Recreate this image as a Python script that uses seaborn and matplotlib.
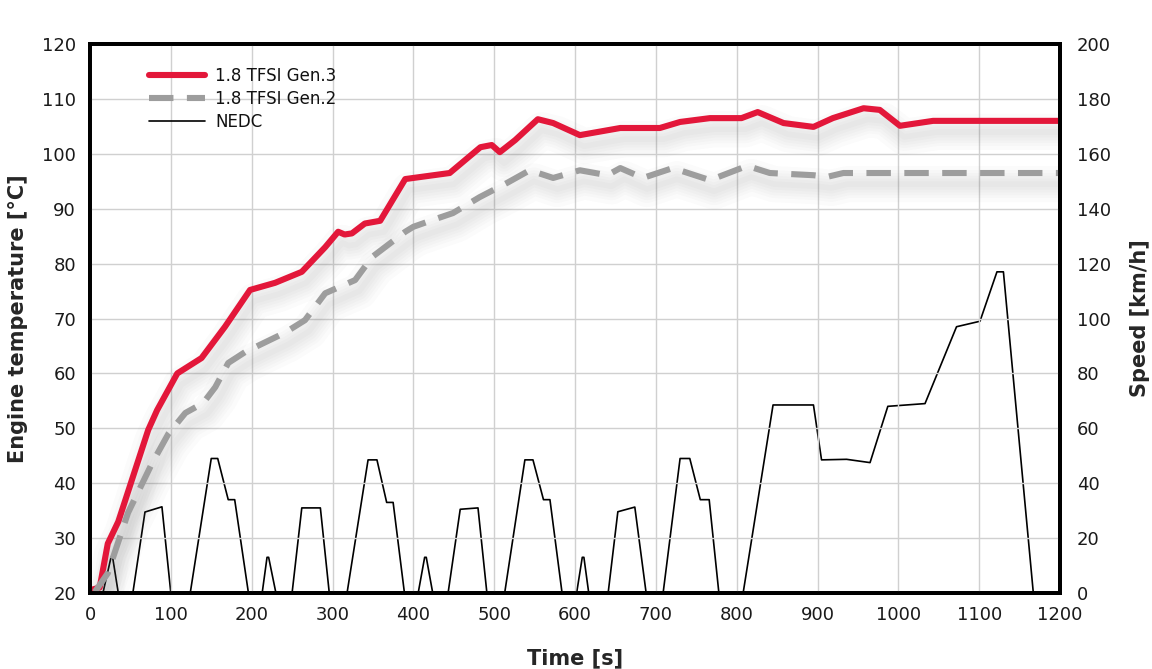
import numpy as np
import pandas as pd
import matplotlib
matplotlib.use("Agg")
import matplotlib.pyplot as plt
import matplotlib.patheffects as pe
import seaborn as sns

# ---------------- data ----------------
gen3_time = [0, 12, 22, 35, 72, 83, 108, 138, 167, 198, 229, 262, 291, 307, 315, 324, 340, 359,
             390, 445, 483, 497, 507, 526, 554, 573, 606, 656, 705, 730, 767, 806, 826, 858,
             895, 919, 957, 977, 1002, 1043, 1200]
gen3_temp = [20.5, 21, 29, 33, 49.7, 53.3, 60, 62.8, 68.5, 75.2, 76.5, 78.5, 83, 85.8, 85.3, 85.5,
             87.3, 87.8, 95.4, 96.5, 101.2, 101.6, 100.3, 102.5, 106.3, 105.6, 103.4, 104.7, 104.7,
             105.8, 106.5, 106.5, 107.6, 105.6, 104.9, 106.5, 108.3, 108, 105.1, 106, 106]

gen2_time = [6, 22, 47, 77, 97, 118, 140, 155, 171, 192, 241, 266, 291, 328, 349, 390, 400, 425,
             449, 482, 516, 544, 573, 606, 640, 656, 684, 721, 767, 813, 841, 895, 912, 932, 1200]
gen2_temp = [20.2, 23.6, 34.6, 43.7, 49, 52.8, 54.6, 57.5, 61.9, 63.9, 67.4, 69.7, 74.6, 77, 81.2,
             85.8, 86.7, 88, 89.2, 92.1, 94.7, 97, 95.6, 97, 96.1, 97.4, 95.6, 97.4, 95.2, 97.8,
             96.5, 96.1, 95.8, 96.5, 96.5]

nedc_time = [0, 16, 26, 28, 35, 53, 68, 89, 100, 124, 150, 158, 171, 179, 196, 213, 219, 221, 230,
             250, 262, 285, 296, 318, 344, 355, 367, 375, 389, 406, 414, 416, 424, 443, 458, 480,
             491, 513, 538, 548, 561, 569, 584, 602, 609, 611, 617, 641, 653, 674, 688, 709, 730,
             742, 755, 766, 778, 808, 845, 895, 905, 936, 965, 987, 1033, 1072, 1101, 1122, 1130,
             1167, 1200]
nedc_speed = [0, 0, 13, 13, 0, 0, 29.5, 31.4, 0, 0, 49, 49, 34, 34, 0, 0, 13, 13, 0,
              0, 31, 31, 0, 0, 48.5, 48.5, 33, 33, 0, 0, 13, 13, 0, 0, 30.5, 31,
              0, 0, 48.5, 48.5, 34, 34, 0, 0, 13, 13, 0, 0, 29.6, 31.3, 0, 0, 49,
              49, 34, 34, 0, 0, 68.5, 68.5, 48.5, 48.7, 47.5, 68, 69, 97, 99, 117, 117,
              0, 0]

x_ticks = list(range(0, 1201, 100))
temp_ticks = list(range(20, 121, 10))
speed_ticks = list(range(0, 201, 20))

df3 = pd.DataFrame({"t": gen3_time, "v": gen3_temp})
df2 = pd.DataFrame({"t": gen2_time, "v": gen2_temp})
dfn = pd.DataFrame({"t": nedc_time, "v": nedc_speed})

# ---------------- style ----------------
sns.set_style("white")
plt.rcParams["font.family"] = ["DejaVu Sans"]

fig = plt.figure(figsize=(11.52, 6.69), dpi=100)
ax = fig.add_axes([90 / 1152, 1 - 593 / 669, 970 / 1152, 549 / 669])
ax2 = ax.twinx()

RED = "#e3173a"
GRAY = "#9d9d9d"

# soft shadow only (solid, no visible line)
shadow_fx = [pe.SimpleLineShadow(offset=(3, -8), shadow_color="#606060", alpha=0.022, linewidth=w)
             for w in (4, 8, 12, 16, 20, 26)]

# NEDC speed on secondary axis
sns.lineplot(data=dfn, x="t", y="v", ax=ax2, color="black", linewidth=1.2, label="NEDC",
             legend=False, solid_joinstyle="round")

for d in (df3, df2):
    sns.lineplot(data=d, x="t", y="v", ax=ax, color="white", linewidth=0, legend=False,
                 path_effects=shadow_fx)

sns.lineplot(data=df3, x="t", y="v", ax=ax, color=RED, linewidth=4.4, label="1.8 TFSI Gen.3",
             legend=False, solid_joinstyle="round", solid_capstyle="round")
sns.lineplot(data=df2, x="t", y="v", ax=ax, color=GRAY, linewidth=4.4, label="1.8 TFSI Gen.2",
             legend=False, dash_joinstyle="round")
ax.lines[-1].set_dashes([4, 2.2])

ax.set_zorder(ax2.get_zorder() + 1)
ax.patch.set_visible(False)

ax.set_xlim(0, 1200)
ax.set_ylim(20, 120)
ax2.set_ylim(0, 200)
ax.set_xticks(x_ticks)
ax.set_yticks(temp_ticks)
ax2.set_yticks(speed_ticks)
ax.grid(True, color="#d0d0d0", linewidth=1.0)
ax2.grid(False)

for a in (ax, ax2):
    for s in a.spines.values():
        s.set_linewidth(2.8)
        s.set_color("black")
    a.tick_params(axis="both", length=0, labelsize=13, colors="#1a1a1a")
ax.tick_params(axis="x", pad=9)
ax.tick_params(axis="y", pad=10)
ax2.tick_params(axis="y", pad=12)

ax.set_xlabel("Time [s]", fontsize=15, fontweight="bold", labelpad=18)
ax.set_ylabel("Engine temperature [°C]", fontsize=15, fontweight="bold", labelpad=10)
ax2.set_ylabel("Speed [km/h]", fontsize=15, fontweight="bold", labelpad=14)

h1, l1 = ax.get_legend_handles_labels()
h2, l2 = ax2.get_legend_handles_labels()
leg = ax.legend(h1 + h2, l1 + l2, loc="upper left", bbox_to_anchor=(0.045, 0.985), frameon=False,
                fontsize=12, handlelength=3.4, handletextpad=0.6, labelspacing=0.3)
for t in leg.get_texts():
    t.set_color("#111111")

fig.savefig("out.png", dpi=100, facecolor="white")
